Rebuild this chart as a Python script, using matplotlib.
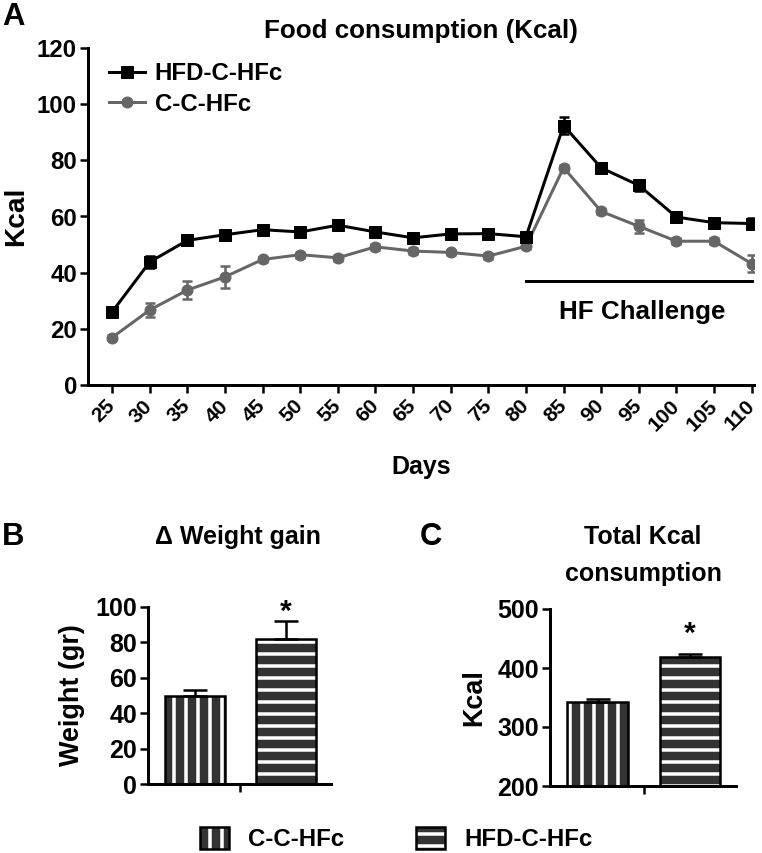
import matplotlib
matplotlib.use("Agg")
import matplotlib.pyplot as plt
from matplotlib.patches import Patch

plt.rcParams['font.family'] = ['Liberation Sans', 'DejaVu Sans']
plt.rcParams['font.weight'] = 'bold'
plt.rcParams['hatch.linewidth'] = 3.5
plt.rcParams['hatch.color'] = 'white'

# ---------------- data ----------------
days = [25, 30, 35, 40, 45, 50, 55, 60, 65, 70, 75, 80, 85, 90, 95, 100, 105, 110]
hfd_kcal = [26.0, 43.8, 51.5, 53.5, 55.3, 54.5, 56.9, 54.5, 52.4, 53.8, 53.9, 52.8, 92.4, 77.3, 71.1, 59.8, 57.8, 57.5]
hfd_err = [1.0, 2.2, 1.8, 1.0, 1.0, 1.0, 1.0, 1.0, 1.0, 1.0, 1.0, 1.2, 3.0, 1.0, 2.0, 1.0, 1.0, 2.0]
cc_kcal = [16.9, 26.7, 33.8, 38.5, 44.7, 46.4, 45.3, 49.2, 47.7, 47.2, 45.9, 49.4, 77.4, 61.8, 56.5, 51.2, 51.2, 43.2]
cc_err = [0.8, 2.5, 3.2, 4.0, 1.0, 1.0, 1.0, 1.0, 1.0, 1.0, 1.0, 1.0, 1.0, 1.0, 2.3, 1.0, 1.0, 3.0]
x_ticklabels = [str(d) for d in days]

groups = ['C-C-HFc', 'HFD-C-HFc']
weight_gain = [50.0, 82.0]
weight_err = [3.0, 10.0]
total_kcal = [343.0, 418.0]
total_err = [5.0, 5.0]

W, H = 762, 853
DPI = 72
fig = plt.figure(figsize=(W / DPI, H / DPI), dpi=DPI)

def ax_px(l, r, t, b):
    return fig.add_axes([l / W, 1 - b / H, (r - l) / W, (b - t) / H])

def style(ax, size=24):
    for s in ['top', 'right']:
        ax.spines[s].set_visible(False)
    for s in ['left', 'bottom']:
        ax.spines[s].set_linewidth(3)
    ax.tick_params(width=2.5, length=8, labelsize=size, pad=3)
    for lab in ax.get_xticklabels() + ax.get_yticklabels():
        lab.set_fontweight('bold')

# ---------------- Panel A ----------------
axA = ax_px(88, 754, 48, 385)
axA.errorbar(days, hfd_kcal, yerr=hfd_err, color='black', marker='s', markersize=12,
             lw=3, capsize=5, elinewidth=2.5, capthick=2.5, label='HFD-C-HFc', zorder=3)
axA.errorbar(days, cc_kcal, yerr=cc_err, color='#666666', marker='o', markersize=11,
             lw=3, capsize=5, elinewidth=2.5, capthick=2.5, label='C-C-HFc', zorder=2)
axA.set_xlim(21.8, 110.3)
axA.set_ylim(0, 120)
axA.set_yticks([0, 20, 40, 60, 80, 100, 120])
axA.set_xticks(days)
axA.set_xticklabels(x_ticklabels, rotation=45, ha='right', va='center', rotation_mode='anchor')
style(axA)
axA.tick_params(axis='x', labelsize=21, pad=10)
axA.plot([80, 110], [37, 37], color='black', lw=3, clip_on=False)
axA.text(95.5, 26, 'HF Challenge', ha='center', va='center', fontsize=26, fontweight='bold')
axA.set_ylabel('Kcal', fontsize=28, fontweight='bold', labelpad=8)
axA.set_xlabel('Days', fontsize=25, fontweight='bold', labelpad=20)
axA.set_title('Food consumption (Kcal)', fontsize=26, fontweight='bold', pad=10)
h, l = axA.get_legend_handles_labels()
h = [hh[0] for hh in h]
axA.legend(h, l, loc='upper left', bbox_to_anchor=(0.01, 1.0), frameon=False, fontsize=24,
           handlelength=1.5, handletextpad=0.4, labelspacing=0.3, borderaxespad=0.2)

# ---------------- bars helper ----------------
hatches = ['|', '-']

def bars(ax, vals, errs, base):
    xs = [0, 1]
    for i in range(2):
        ax.bar(xs[i], vals[i] - base, bottom=base, width=0.66, color='#333333',
               edgecolor='white', hatch=hatches[i], linewidth=0, zorder=2)
        ax.bar(xs[i], vals[i] - base, bottom=base, width=0.66, fill=False,
               edgecolor='black', linewidth=2.5, zorder=3)
        ax.errorbar(xs[i], vals[i], yerr=[[0], [errs[i]]], color='black', capsize=12,
                    elinewidth=2.5, capthick=2.5, zorder=4)
    ax.set_xlim(-0.52, 1.5)
    ax.set_xticks([0.5])
    ax.set_xticklabels([''])

# ---------------- Panel B ----------------
axB = ax_px(148, 331, 607, 784)
bars(axB, weight_gain, weight_err, 0)
axB.set_ylim(0, 100)
axB.set_yticks([0, 20, 40, 60, 80, 100])
style(axB, 25)
axB.text(1, 97, '*', ha='center', va='center', fontsize=30, fontweight='bold')
axB.set_ylabel('Weight (gr)', fontsize=27, fontweight='bold', labelpad=10)
fig.text(238 / W, 1 - 537 / H, 'Δ Weight gain', ha='center', va='center', fontsize=25, fontweight='bold')

# ---------------- Panel C ----------------
axC = ax_px(550, 736, 609, 786)
bars(axC, total_kcal, total_err, 200)
axC.set_ylim(200, 500)
axC.set_yticks([200, 300, 400, 500])
style(axC, 25)
axC.text(1, 457, '*', ha='center', va='center', fontsize=30, fontweight='bold')
axC.set_ylabel('Kcal', fontsize=27, fontweight='bold', labelpad=10)
fig.text(643 / W, 1 - 537 / H, 'Total Kcal', ha='center', va='center', fontsize=25, fontweight='bold')
fig.text(643 / W, 1 - 574 / H, 'consumption', ha='center', va='center', fontsize=25, fontweight='bold')

# ---------------- panel letters ----------------
fig.text(2 / W, 1 - 17 / H, 'A', ha='left', va='center', fontsize=31, fontweight='bold')
fig.text(2 / W, 1 - 537 / H, 'B', ha='left', va='center', fontsize=31, fontweight='bold')
fig.text(420 / W, 1 - 537 / H, 'C', ha='left', va='center', fontsize=31, fontweight='bold')

# ---------------- bottom legend ----------------
handles = [(Patch(facecolor='#333333', edgecolor='white', hatch=hatches[i], linewidth=0),
            Patch(fill=False, edgecolor='black', linewidth=2.5)) for i in range(2)]
leg = fig.legend(handles, groups, loc='center', bbox_to_anchor=(0.52, 1 - 839 / H), ncol=2,
                 frameon=False, fontsize=24, handlelength=1.2, handleheight=1.0,
                 handletextpad=0.8, columnspacing=3.0)

fig.savefig('out.png', dpi=DPI)
